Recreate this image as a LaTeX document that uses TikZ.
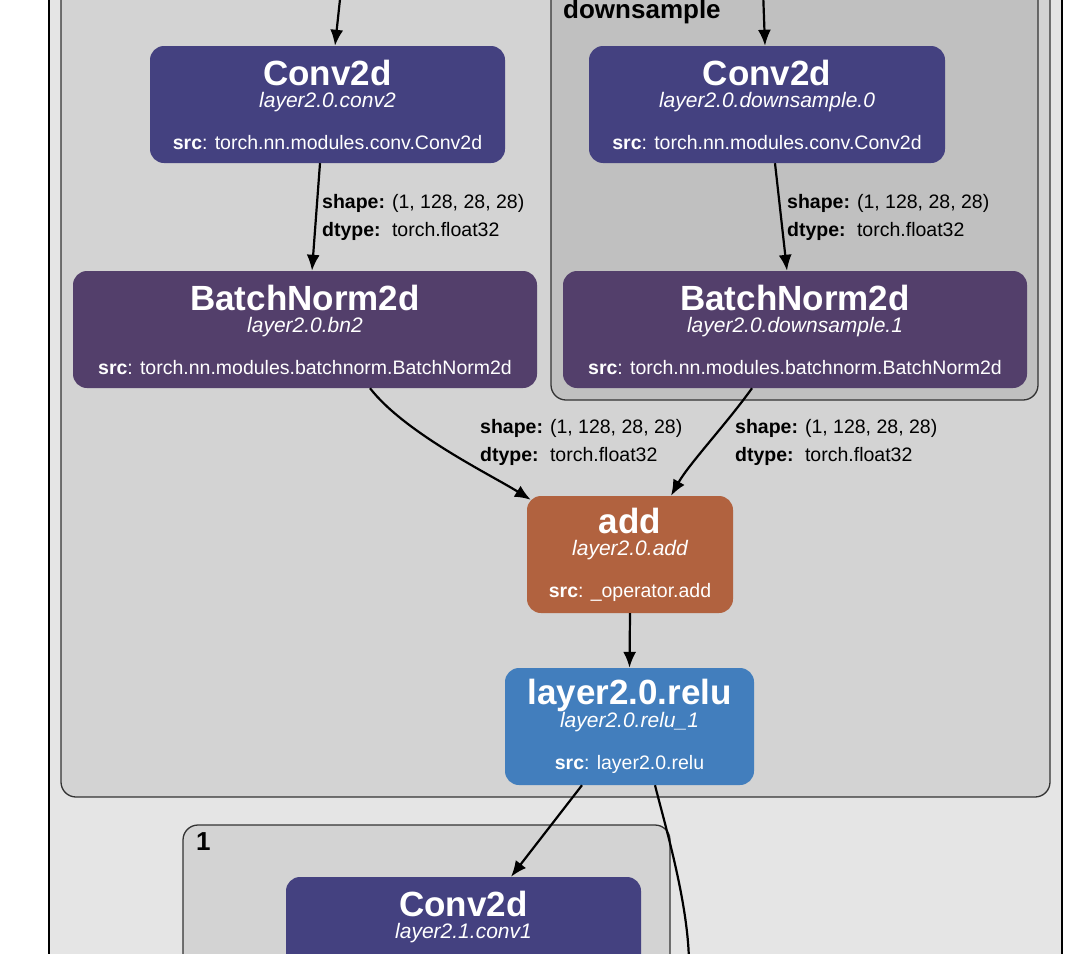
\documentclass[tikz,border=0pt]{standalone}
\usepackage{fontspec}
\setmainfont{Liberation Sans}
\usetikzlibrary{arrows.meta,calc}
\definecolor{convc}{HTML}{444180}
\definecolor{bnc}{HTML}{533F6B}
\definecolor{addc}{HTML}{B1623F}
\definecolor{reluc}{HTML}{427EBD}
\definecolor{outerc}{HTML}{E5E5E5}
\definecolor{blockc}{HTML}{D3D3D3}
\definecolor{dsc}{HTML}{C0C0C0}
\newcommand{\modtext}[3]{%
{\fontsize{35}{36}\selectfont\bfseries #1}\\{\itshape #2}\\[20pt]{\fontsize{19.5}{22}\selectfont\textbf{src}: #3}}
\newcommand{\tensorinfo}{%
\begin{tabular}{@{}l@{\hspace{7pt}}l@{}}\textbf{shape:} & (1, 128, 28, 28)\\ \textbf{dtype:} & torch.float32\end{tabular}}
\tikzset{
  module/.style={rounded corners=14pt, text=white, align=center, inner sep=0pt,
    minimum height=117pt, font=\fontsize{21}{22}\selectfont},
  convnode/.style={module, fill=convc},
  bnnode/.style={module, fill=bnc},
  addnode/.style={module, fill=addc},
  relunode/.style={module, fill=reluc},
  cluster/.style={draw=black!80, line width=1.3pt, rounded corners=15pt},
  clusterlbl/.style={anchor=base west, inner sep=0pt, font=\fontsize{26}{28}\selectfont\bfseries},
  tlabel/.style={anchor=west, inner sep=0pt, font=\fontsize{19.5}{28}\selectfont},
  edge/.style={->, line width=2.2pt}
}
\begin{document}
\begin{tikzpicture}[x=1pt, y=-1pt, >={Latex[length=16pt,width=13pt]}]
\useasboundingbox (0,0) rectangle (1091,953);
\clip (0,0) rectangle (1091,953);
% clusters
\filldraw[fill=outerc, draw=black, line width=1.5pt] (49,-20) rectangle (1062,990);
\filldraw[cluster, fill=blockc] (61,-40) rectangle (1050,797);
\filldraw[cluster, fill=dsc] (551,-40) rectangle (1038,400);
\filldraw[cluster, fill=blockc] (183,825) rectangle (670,1010);
\node[clusterlbl] (dslbl) at (563,18) {downsample};
\node[clusterlbl] (blk1lbl) at (196,850) {1};
% modules
\node[convnode, minimum width=355pt] (conv2) at (327.5,104.5)
  {\modtext{Conv2d}{layer2.0.conv2}{torch.nn.modules.conv.Conv2d}};
\node[bnnode, minimum width=464pt] (bn2) at (305,329.5)
  {\modtext{BatchNorm2d}{layer2.0.bn2}{torch.nn.modules.batchnorm.BatchNorm2d}};
\node[convnode, minimum width=356pt] (ds0) at (767,104.5)
  {\modtext{Conv2d}{layer2.0.downsample.0}{torch.nn.modules.conv.Conv2d}};
\node[bnnode, minimum width=464pt] (ds1) at (795,329.5)
  {\modtext{BatchNorm2d}{layer2.0.downsample.1}{torch.nn.modules.batchnorm.BatchNorm2d}};
\node[addnode, minimum width=206pt] (add) at (630,554.5)
  {\modtext{add}{layer2.0.add}{\_operator.add}};
\node[relunode, minimum width=249pt] (relu) at (629.5,726.5)
  {\modtext{layer2.0.relu}{layer2.0.relu\_1}{layer2.0.relu}};
\node[convnode, minimum width=355pt] (conv1) at (463.5,935.5)
  {\modtext{Conv2d}{layer2.1.conv1}{torch.nn.modules.conv.Conv2d}};
% edges
\coordinate (inA) at (341,-10);
\coordinate (inB) at (763,-10);
\coordinate (outB) at (689,965);
\draw[edge] (inA) -- ([xshift=7.5pt]conv2.north);
\draw[edge] (inB) -- ([xshift=-2pt]ds0.north);
\draw[edge] ([xshift=-7.5pt]conv2.south) -- ([xshift=7pt]bn2.north);
\draw[edge] ([xshift=8pt]ds0.south) -- ([xshift=-8pt]ds1.north);
\draw[edge] ([xshift=65pt]bn2.south) .. controls +(35,45) and +(-40,-25) .. ([shift={(4,4)}]add.north west);
\draw[edge] ([xshift=-43pt]ds1.south) .. controls +(-25,35) and +(18,-32) .. ([xshift=41pt]add.north);
\draw[edge] (add.south) -- (relu.north);
\draw[edge] ([xshift=-47.5pt]relu.south) -- ([xshift=47.5pt]conv1.north);
\draw[line width=2.2pt] ([xshift=25.5pt]relu.south) .. controls +(10,40) and +(0,-60) .. (outB);
% tensor labels
\node[tlabel] (t1) at (322,216.4) {\tensorinfo};
\node[tlabel] (t2) at (787,216.4) {\tensorinfo};
\node[tlabel] (t3) at (480,441.4) {\tensorinfo};
\node[tlabel] (t4) at (735,441.4) {\tensorinfo};
\end{tikzpicture}
\end{document}
